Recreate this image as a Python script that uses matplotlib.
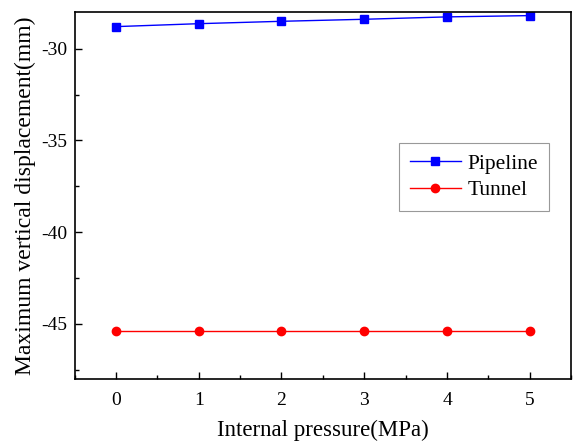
import matplotlib
matplotlib.use("Agg")
import matplotlib.pyplot as plt
from matplotlib.ticker import MultipleLocator

pressure = [0, 1, 2, 3, 4, 5]
pipeline = [-28.80, -28.64, -28.51, -28.40, -28.27, -28.20]
tunnel = [-45.38, -45.38, -45.38, -45.38, -45.38, -45.38]

plt.rcParams['font.family'] = ['Liberation Serif', 'DejaVu Serif']
plt.rcParams['axes.unicode_minus'] = False

fig = plt.figure(figsize=(5.74, 4.42), dpi=100)
ax = fig.add_axes([0.130, 0.1425, 0.865, 0.8305])

ax.plot(pressure, pipeline, color='#0000ff', marker='s', markersize=5.5, linewidth=1, label='Pipeline')
ax.plot(pressure, tunnel, color='#ff0000', marker='o', markersize=6, linewidth=1, label='Tunnel')

ax.set_xlim(-0.5, 5.5)
ax.set_ylim(-48, -28)
ax.xaxis.set_major_locator(MultipleLocator(1))
ax.xaxis.set_minor_locator(MultipleLocator(0.5))
ax.yaxis.set_major_locator(MultipleLocator(5))
ax.yaxis.set_minor_locator(MultipleLocator(2.5))
ax.tick_params(which='both', direction='in', top=False, right=False, labelsize=14)
ax.tick_params(which='major', length=5, width=1)
ax.tick_params(which='minor', length=3, width=1)
ax.tick_params(axis='x', pad=9)
ax.tick_params(axis='y', pad=5)
for s in ax.spines.values():
    s.set_linewidth(1.2)

ax.set_xlabel('Internal pressure(MPa)', fontsize=16.5, labelpad=8)
ax.set_ylabel('Maximum vertical displacement(mm)', fontsize=17, labelpad=4)

leg = ax.legend(loc='upper left', bbox_to_anchor=(0.653, 0.643), fontsize=15.5, fancybox=False,
                edgecolor='#808080', handlelength=2.4, borderpad=0.5, labelspacing=0.3,
                handletextpad=0.3, borderaxespad=0)
leg.get_frame().set_linewidth(0.8)

fig.savefig('out.png', dpi=100)
